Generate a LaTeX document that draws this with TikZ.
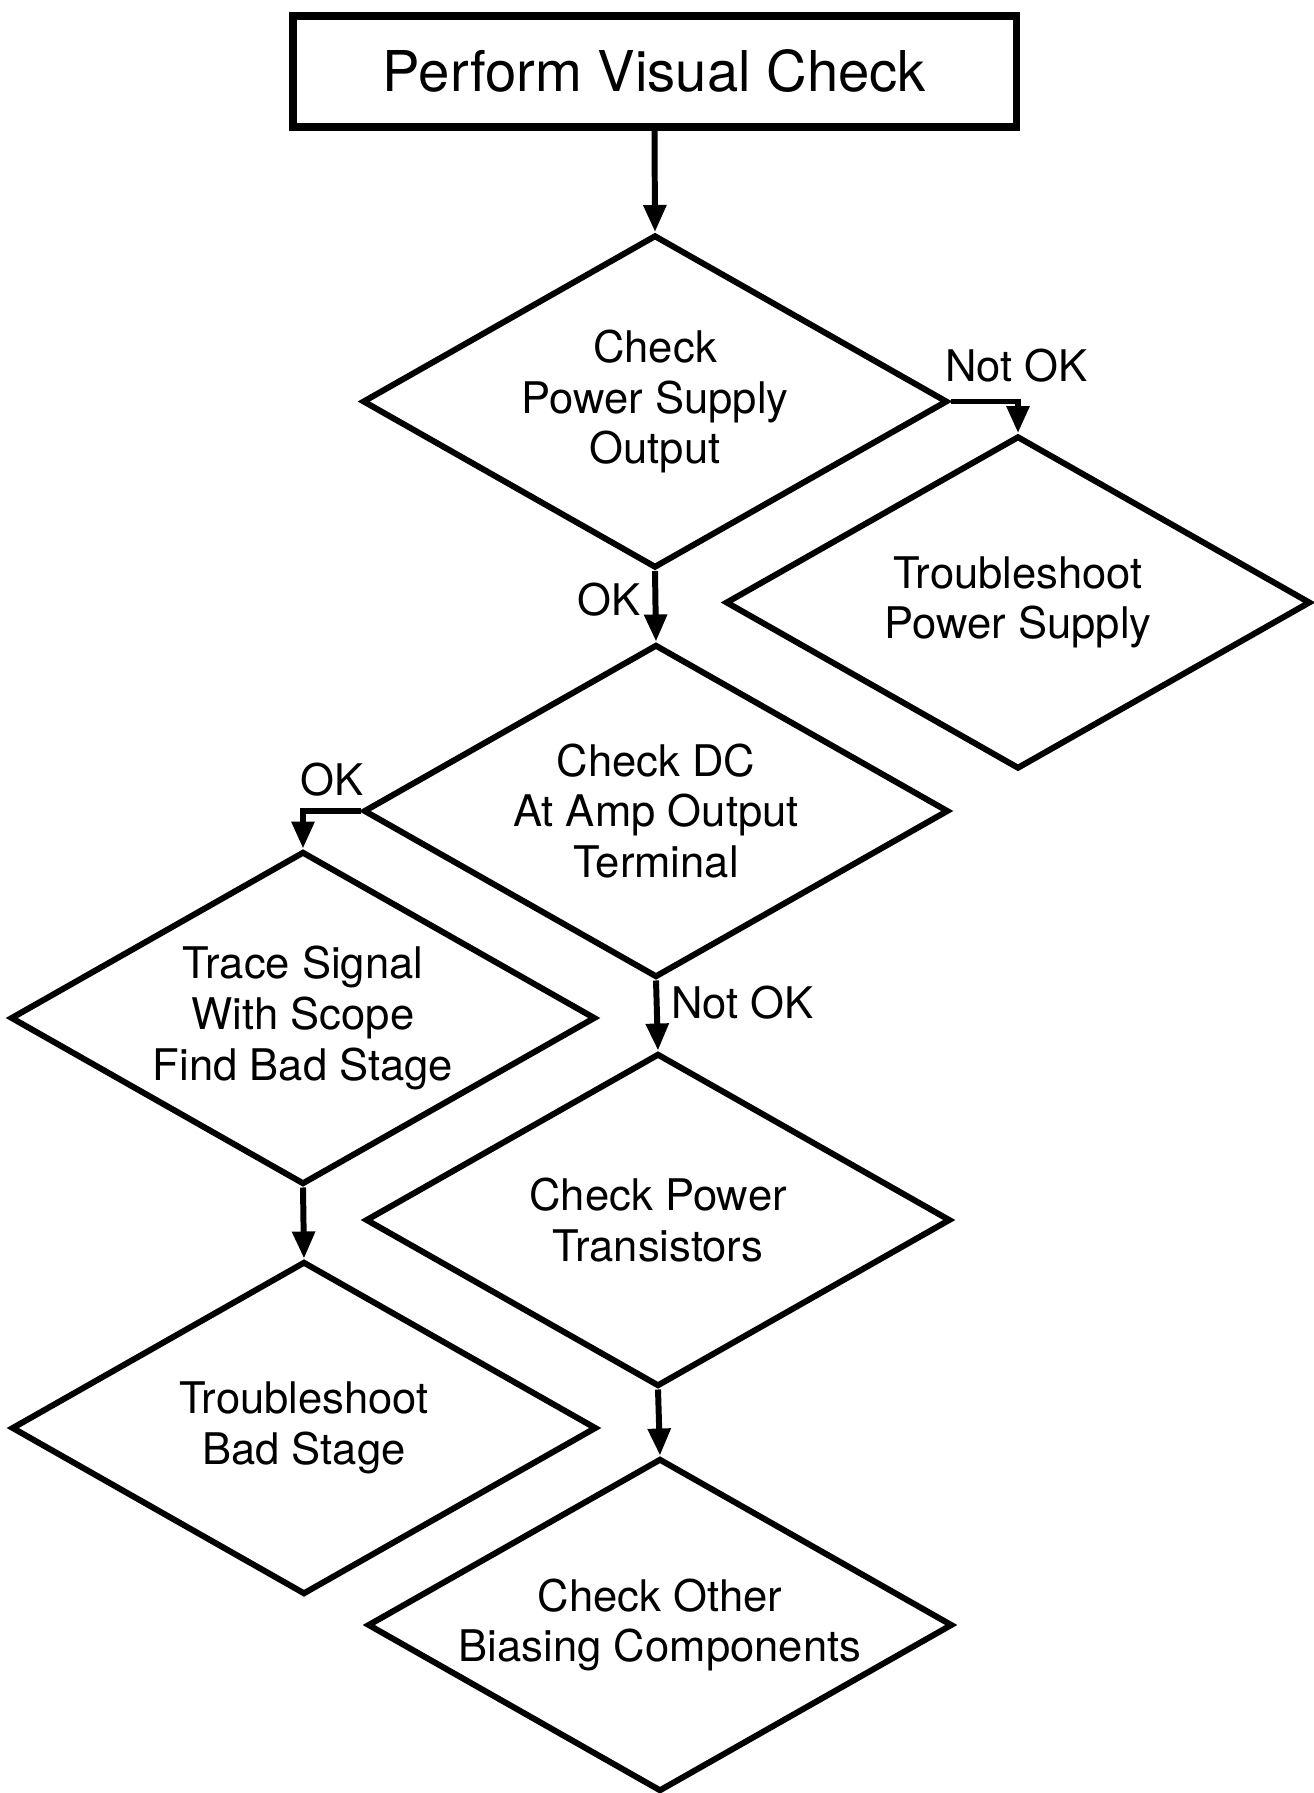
\documentclass[tikz,border=0pt]{standalone}
\usepackage{fontspec}
\setmainfont{TeX Gyre Heros}
\usetikzlibrary{shapes.geometric,arrows.meta}

\begin{document}
\begin{tikzpicture}[
    decision/.style={draw, shape=diamond, aspect=1.75, minimum width=5.85cm,
      minimum height=3.33cm, inner sep=0pt, line width=1.7pt, align=center,
      font=\fontsize{12.4}{14.4}\selectfont},
    process/.style={draw, rectangle, line width=2pt, minimum width=7.23cm,
      minimum height=1.11cm, font=\fontsize{16}{19}\selectfont},
    flow/.style={-{Triangle[length=0.27cm,width=0.22cm]}, line width=1.7pt},
    lbl/.style={font=\fontsize{12.4}{14.4}\selectfont}
  ]
    \useasboundingbox (0,0) rectangle (13.14,-17.93);

    % start box and the decision diamonds
    \node[process] (Visual) at (6.545,-0.715) {Perform Visual Check};

    \node[decision] (Supply) at (6.55,-4.015) {Check\\Power Supply\\Output};
    \node[decision] (FixSupply) at (10.18,-6.025) {Troubleshoot\\Power Supply};
    \node[decision] (DC) at (6.56,-8.11) {Check DC\\At Amp Output\\Terminal};
    \node[decision] (Trace) at (3.03,-10.18) {Trace Signal\\With Scope\\Find Bad Stage};
    \node[decision] (Power) at (6.58,-12.20) {Check Power\\Transistors};
    \node[decision] (FixStage) at (3.04,-14.28) {Troubleshoot\\Bad Stage};
    \node[decision] (Bias) at (6.60,-16.25) {Check Other\\Biasing Components};

    % connectors
    \draw[flow] (Visual.south) -- (Supply.north);
    \draw[flow] (Supply.east) -| (FixSupply.north);
    \node[lbl, above right, xshift=-5pt, yshift=2pt] (NotOkA) at (Supply.east) {Not OK};
    \draw[flow] (Supply.south) -- node[lbl, left, pos=0.4] (OkA) {OK} (DC.north);
    \draw[flow] (DC.west) -| node[lbl, above, pos=0.25] (OkB) {OK} (Trace.north);
    \draw[flow] (DC.south) -- node[lbl, right, pos=0.32] (NotOkB) {Not OK} (Power.north);
    \draw[flow] (Trace.south) -- (FixStage.north);
    \draw[flow] (Power.south) -- (Bias.north);

\end{tikzpicture}
\end{document}
